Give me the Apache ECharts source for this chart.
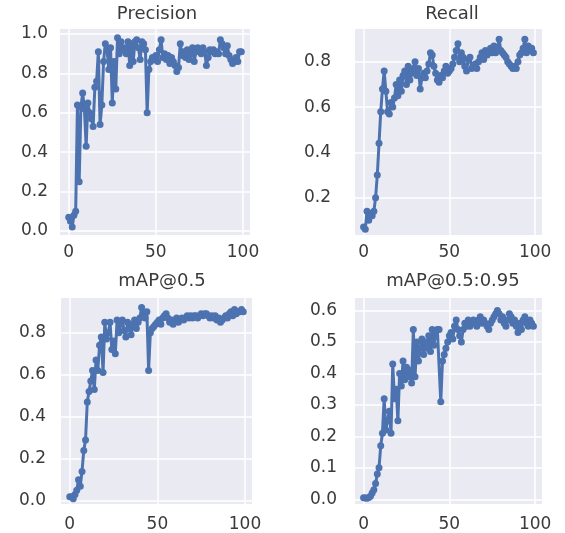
<!doctype html>
<html>
    <head>
        <meta charset="utf-8">
        <title>Training metrics</title>
        <style>
            html, body { margin: 0; padding: 0; background: #fff; }
            #main { width: 565px; height: 533px; }
        </style>
    </head>
    <body>
        <div id="main"></div>
        <script src="https://cdn.jsdelivr.net/npm/echarts@6/dist/echarts.min.js"></script>
        <script>
            // epoch index 0..99
            var epochs = [];
            for (var e = 0; e < 100; e++) epochs.push(e);

            var precision = [
                0.07, 0.05, 0.02, 0.08, 0.10, 0.64, 0.25, 0.63, 0.70, 0.62,
                0.43, 0.65, 0.60, 0.57, 0.53, 0.73, 0.76, 0.91, 0.54, 0.64,
                0.86, 0.95, 0.92, 0.82, 0.93, 0.65, 0.86, 0.72, 0.98, 0.90,
                0.96, 0.92, 0.93, 0.90, 0.96, 0.84, 0.95, 0.86, 0.96, 0.97,
                0.93, 0.87, 0.96, 0.95, 0.92, 0.60, 0.82, 0.86, 0.88, 0.87,
                0.89, 0.86, 0.92, 0.97, 0.88, 0.90, 0.87, 0.89, 0.85, 0.88,
                0.86, 0.84, 0.81, 0.83, 0.95, 0.89, 0.91, 0.88, 0.92, 0.87,
                0.90, 0.93, 0.86, 0.91, 0.93, 0.92, 0.90, 0.93, 0.91, 0.84,
                0.88, 0.92, 0.91, 0.92, 0.90, 0.91, 0.90, 0.97, 0.95, 0.93,
                0.90, 0.94, 0.89, 0.87, 0.85, 0.86, 0.88, 0.86, 0.91, 0.91
            ];
            var recall = [
                0.07, 0.06, 0.14, 0.10, 0.13, 0.12, 0.14, 0.20, 0.30, 0.44,
                0.58, 0.68, 0.76, 0.67, 0.58, 0.57, 0.62, 0.60, 0.64, 0.70,
                0.65, 0.72, 0.67, 0.74, 0.76, 0.70, 0.78, 0.72, 0.75, 0.77,
                0.80, 0.74, 0.77, 0.68, 0.73, 0.75, 0.73, 0.76, 0.79, 0.84,
                0.83, 0.78, 0.75, 0.72, 0.71, 0.74, 0.73, 0.76, 0.78, 0.75,
                0.76, 0.77, 0.79, 0.82, 0.85, 0.88, 0.80, 0.84, 0.82, 0.78,
                0.76, 0.81, 0.82, 0.77, 0.78, 0.79, 0.77, 0.80, 0.82, 0.84,
                0.81, 0.85, 0.83, 0.84, 0.86, 0.84, 0.87, 0.84, 0.86, 0.90,
                0.85, 0.84, 0.83, 0.82, 0.80, 0.79, 0.78, 0.77, 0.78, 0.77,
                0.80, 0.83, 0.84, 0.86, 0.90, 0.84, 0.87, 0.85, 0.86, 0.84
            ];
            var map50 = [
                0.02, 0.02, 0.01, 0.03, 0.05, 0.10, 0.07, 0.14, 0.24, 0.29,
                0.47, 0.52, 0.57, 0.62, 0.53, 0.67, 0.62, 0.74, 0.78, 0.61,
                0.85, 0.77, 0.80, 0.85, 0.72, 0.76, 0.70, 0.86, 0.80, 0.84,
                0.86, 0.81, 0.78, 0.85, 0.82, 0.79, 0.84, 0.86, 0.82, 0.85,
                0.87, 0.92, 0.89, 0.87, 0.90, 0.62, 0.80, 0.82, 0.83, 0.84,
                0.85, 0.86, 0.84, 0.87, 0.88, 0.89, 0.87, 0.85, 0.86, 0.84,
                0.86, 0.87, 0.85, 0.86, 0.87, 0.86, 0.87, 0.88, 0.87, 0.88,
                0.87, 0.88, 0.88, 0.87, 0.88, 0.89, 0.88, 0.89, 0.89, 0.88,
                0.87, 0.88, 0.87, 0.88, 0.86, 0.87, 0.85, 0.86, 0.87, 0.88,
                0.87, 0.89, 0.90, 0.88, 0.91, 0.89, 0.90, 0.90, 0.91, 0.90
            ];
            var map5095 = [
                0.005, 0.004, 0.003, 0.006, 0.01, 0.02, 0.03, 0.05, 0.08, 0.10,
                0.17, 0.21, 0.32, 0.22, 0.25, 0.28, 0.21, 0.43, 0.32, 0.35,
                0.25, 0.40, 0.36, 0.44, 0.38, 0.42, 0.39, 0.41, 0.37, 0.54,
                0.39, 0.50, 0.44, 0.48, 0.51, 0.46, 0.50, 0.48, 0.52, 0.47,
                0.54, 0.49, 0.53, 0.54, 0.54, 0.31, 0.44, 0.46, 0.48, 0.50,
                0.52, 0.53, 0.51, 0.55, 0.57, 0.54, 0.52, 0.50, 0.54, 0.56,
                0.55, 0.57, 0.55, 0.56, 0.57, 0.56, 0.55, 0.57, 0.58, 0.56,
                0.57, 0.56, 0.55, 0.54, 0.56, 0.57, 0.58, 0.59, 0.60, 0.59,
                0.57, 0.58, 0.56, 0.55, 0.57, 0.59, 0.58, 0.56, 0.57, 0.55,
                0.53, 0.56, 0.54, 0.57, 0.58, 0.56, 0.55, 0.57, 0.56, 0.55
            ];

            var titles = ['Precision', 'Recall', 'mAP@0.5', 'mAP@0.5:0.95'];
            var xTicks = [0, 50, 100];
            var yTicks = [
                [0, 0.2, 0.4, 0.6, 0.8, 1.0],
                [0.2, 0.4, 0.6, 0.8],
                [0, 0.2, 0.4, 0.6, 0.8],
                [0, 0.1, 0.2, 0.3, 0.4, 0.5, 0.6]
            ];
            var yRange = [[-0.02, 1.025], [0.035, 0.945], [-0.015, 0.965], [-0.015, 0.64]];
            var metrics = [precision, recall, map50, map5095];

            var blue = '#4C72B0';
            var textColor = '#3a3a3a';
            var font = 'DejaVu Sans';

            var grids = [
                { left: 60, top: 29, width: 190, height: 206 },
                { left: 355, top: 29, width: 187, height: 206 },
                { left: 61, top: 298, width: 191, height: 206 },
                { left: 355, top: 298, width: 187, height: 206 }
            ];
            var titlePos = [[157, 5], [452, 5], [162, 272], [453, 272]];
            var yLabelMargin = [12, 24, 15, 18];
            var xLabelMargin = [9, 9, 12, 12];

            var option = {
                animation: false,
                backgroundColor: '#fff',
                title: [],
                grid: [],
                xAxis: [],
                yAxis: [],
                series: []
            };

            for (var i = 0; i < 4; i++) {
                option.title.push({
                    text: titles[i],
                    left: titlePos[i][0],
                    top: titlePos[i][1],
                    textAlign: 'center',
                    padding: 0,
                    textStyle: { fontFamily: font, fontSize: 18, fontWeight: 'normal', color: textColor }
                });
                option.grid.push({
                    left: grids[i].left, top: grids[i].top,
                    width: grids[i].width, height: grids[i].height,
                    show: true, backgroundColor: '#EAEAF2', borderWidth: 0
                });
                option.xAxis.push({
                    type: 'value', gridIndex: i, min: -5, max: 104,
                    axisLine: { show: false },
                    axisTick: { show: false, customValues: xTicks },
                    axisLabel: {
                        customValues: xTicks, margin: xLabelMargin[i],
                        fontFamily: font, fontSize: 17, color: textColor
                    },
                    splitLine: { show: true, lineStyle: { color: '#fff', width: 1.5 } }
                });
                option.yAxis.push({
                    type: 'value', gridIndex: i, min: yRange[i][0], max: yRange[i][1],
                    axisLine: { show: false },
                    axisTick: { show: false, customValues: yTicks[i] },
                    axisLabel: {
                        customValues: yTicks[i], margin: yLabelMargin[i],
                        fontFamily: font, fontSize: 17, color: textColor,
                        formatter: function (v) { return v.toFixed(1); }
                    },
                    splitLine: { show: true, lineStyle: { color: '#fff', width: 1.5 } }
                });
                option.series.push({
                    type: 'line',
                    xAxisIndex: i, yAxisIndex: i,
                    data: epochs.map(function (ep, k) { return [ep, this[k]]; }, metrics[i]),
                    symbol: 'circle', symbolSize: 7,
                    showAllSymbol: true,
                    itemStyle: { color: blue },
                    lineStyle: { color: blue, width: 3 },
                    silent: true
                });
            }

            var chart = echarts.init(document.getElementById('main'));
            chart.setOption(option);
        </script>
    </body>
</html>
